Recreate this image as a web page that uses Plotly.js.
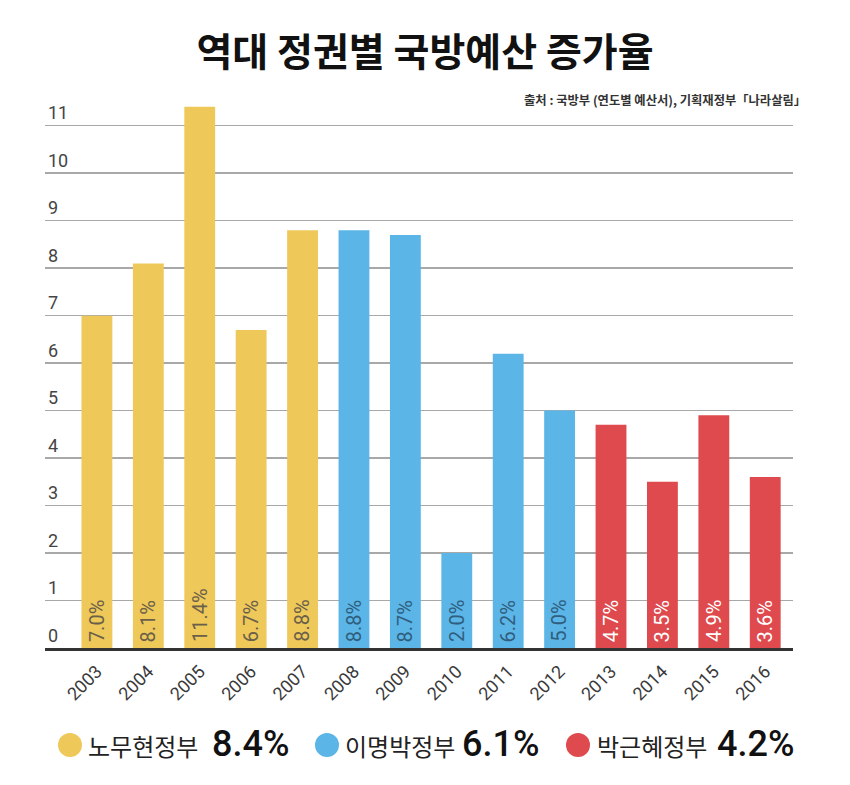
<!DOCTYPE html>
<html><head><meta charset="utf-8">
<script src="https://cdn.plot.ly/plotly-3.0.1.min.js"></script>
<style>html,body{margin:0;padding:0;background:#fff}#c{width:850px;height:785px}</style>
</head><body><div id="c"></div>
<script>
const years = ['2003','2004','2005','2006','2007','2008','2009','2010','2011','2012','2013','2014','2015','2016'];
const values = [7.0, 8.1, 11.4, 6.7, 8.8, 8.8, 8.7, 2.0, 6.2, 5.0, 4.7, 3.5, 4.9, 3.6];
const govOfYear = ['노무현','노무현','노무현','노무현','노무현','이명박','이명박','이명박','이명박','이명박','박근혜','박근혜','박근혜','박근혜'];
const govNames = ['노무현정부','이명박정부','박근혜정부'];
const govKeys = ['노무현','이명박','박근혜'];
const govAverages = [8.4, 6.1, 4.2];
const yTicks = [0,1,2,3,4,5,6,7,8,9,10,11];

const barColor = {'노무현':'#EFC85A','이명박':'#5BB5E6','박근혜':'#DE4A4E'};
const textColor = {'노무현':'#6A6049','이명박':'#2F5E7E','박근혜':'#FFFFFF'};
const KFONT = 'Roboto, "Noto Sans CJK KR", sans-serif';

const trace = {
  type:'bar', x: years, y: values,
  marker:{color: govOfYear.map(g=>barColor[g])},
  width: 0.6, hoverinfo:'skip'
};

const L=45, R=793, T=102, B=648;
const px = x => (x-L)/(R-L);
const py = y => (B-y)/(B-T);

const shapes = [], annotations = [];
// value labels inside bars
years.forEach((yr,i)=>{
  annotations.push({x:i, y:0.08, xref:'x', yref:'y', xanchor:'center', yanchor:'bottom',
    text:values[i].toFixed(1)+'%', textangle:-90, showarrow:false,
    font:{size:20, family:KFONT, color:textColor[govOfYear[i]]}});
});
const legendX = [[70,86,208],[327,343,458],[578,595,713]];
govKeys.forEach((g,i)=>{
  const [cx,tx,vx] = legendX[i];
  shapes.push({type:'circle', xref:'paper', yref:'paper', xsizemode:'pixel', ysizemode:'pixel',
    xanchor:px(cx), yanchor:py(745), x0:-12, x1:12, y0:-12, y1:12,
    fillcolor:barColor[g], line:{width:0}});
  annotations.push({xref:'paper', yref:'paper', x:px(tx), y:py(745), xanchor:'left', yanchor:'middle',
    text:govNames[i], showarrow:false, font:{size:24, family:'"Noto Sans CJK KR", sans-serif', color:'#222'}});
  annotations.push({xref:'paper', yref:'paper', x:px(vx+2), y:py(744), xanchor:'left', yanchor:'middle',
    text:govAverages[i].toFixed(1)+'%', showarrow:false, font:{size:36, family:KFONT, weight:500, color:'#111'}});
});
annotations.push({xref:'paper', yref:'paper', x:px(808), y:py(100), xanchor:'right', yanchor:'middle',
  text:'<b>출처 : 국방부 (연도별 예산서), 기획재정부「나라살림」</b>', showarrow:false,
  font:{size:12.3, family:'"Noto Sans CJK KR", sans-serif', color:'#333'}});

const layout = {
  width:850, height:785, paper_bgcolor:'#fff', plot_bgcolor:'#fff',
  margin:{l:L, r:850-R, t:T, b:785-B},
  showlegend:false,
  title:{text:'<b>역대 정권별 국방예산 증가율</b>', x:0.5, xanchor:'center', y:1-52/785, yanchor:'middle', yref:'container',
    font:{size:39, family:'"Noto Sans CJK KR", sans-serif', color:'#111'}},
  xaxis:{type:'category', range:[-1.01, 13.54], tickangle:-45, tickfont:{size:18, family:KFONT, color:'#3a3a3a'},
    showline:true, linecolor:'#333', linewidth:3, ticks:'outside', ticklen:3, tickcolor:'rgba(0,0,0,0)', showgrid:false},
  yaxis:{range:[0,11.5], tickvals:yTicks, ticktext:yTicks.map(String), ticklabelposition:'inside top',
    tickfont:{size:18, family:KFONT, color:'#444'}, showgrid:true, gridcolor:'#A8A8A8', gridwidth:1.5,
    zeroline:false, showline:false, ticks:''},
  shapes, annotations
};
Plotly.newPlot('c',[trace],layout,{displayModeBar:false, staticPlot:true});
</script></body></html>
